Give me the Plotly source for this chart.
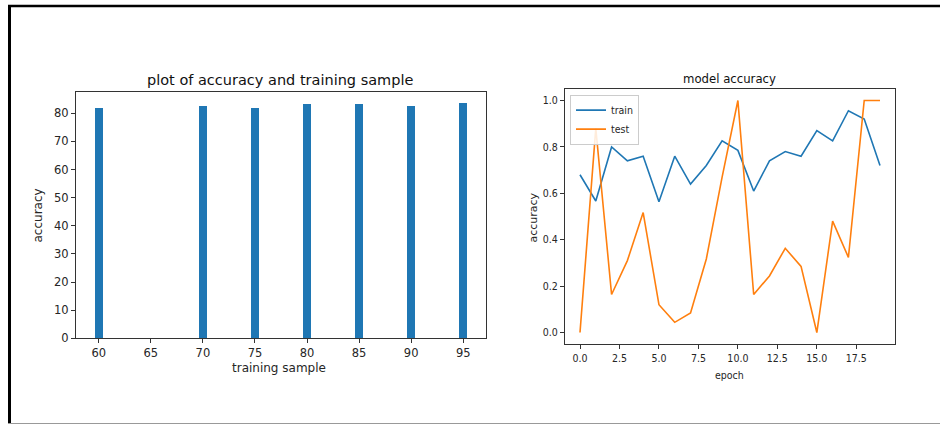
import plotly.graph_objects as go

# ---- data ----
samples = [60, 70, 75, 80, 85, 90, 95]
sample_accuracy = [81.8, 82.6, 81.8, 83.1, 83.1, 82.3, 83.4]

epochs = list(range(20))
train_acc = [0.68, 0.567, 0.80, 0.74, 0.76, 0.564, 0.76, 0.64, 0.72, 0.826,
             0.785, 0.61, 0.74, 0.78, 0.76, 0.87, 0.826, 0.956, 0.92, 0.72]
test_acc = [0.0, 0.88, 0.164, 0.31, 0.517, 0.12, 0.044, 0.084, 0.317, 0.67,
            1.0, 0.164, 0.244, 0.363, 0.285, 0.0, 0.48, 0.324, 1.0, 1.0]

left_xticks = [60, 65, 70, 75, 80, 85, 90, 95]
left_yticks = [0, 10, 20, 30, 40, 50, 60, 70, 80]
right_xticks = [0.0, 2.5, 5.0, 7.5, 10.0, 12.5, 15.0, 17.5]
right_yticks = [0.0, 0.2, 0.4, 0.6, 0.8, 1.0]

W = 940
REF_H = 424
H = 434
BLUE = "#1f77b4"
ORANGE = "#ff7f0e"
TXT = "#262626"
FONT = "DejaVu Sans"
FONTC = "DejaVu Sans Condensed, DejaVu Sans"


def px(x):
    return x / W


def py(y):
    # y given in reference-picture pixels
    return 1 - y / REF_H


fig = go.Figure()

fig.add_trace(go.Bar(x=samples, y=sample_accuracy, width=0.8,
                     marker=dict(color=BLUE, line=dict(width=0)),
                     xaxis="x", yaxis="y", showlegend=False))

fig.add_trace(go.Scatter(x=epochs, y=train_acc, mode="lines", name="train",
                         line=dict(color=BLUE, width=1.6),
                         xaxis="x2", yaxis="y2"))
fig.add_trace(go.Scatter(x=epochs, y=test_acc, mode="lines", name="test",
                         line=dict(color=ORANGE, width=1.6),
                         xaxis="x2", yaxis="y2"))

axis_common = dict(showgrid=False, zeroline=False, showline=True,
                   linecolor="#333333", linewidth=1, mirror=True,
                   ticks="outside", ticklen=4, tickcolor="#333333",
                   tickfont=dict(family=FONT, size=11.5, color=TXT))

fig.update_layout(
    width=W, height=H,
    margin=dict(l=0, r=0, t=0, b=0),
    paper_bgcolor="white", plot_bgcolor="white",
    bargap=0,
    xaxis=dict(axis_common, domain=[px(76), px(486)], range=[57.81, 97.19],
               tickvals=left_xticks, ticktext=[str(v) for v in left_xticks],
               anchor="y"),
    yaxis=dict(axis_common, domain=[py(336), py(91.7)], range=[0, 87.4],
               tickvals=left_yticks, ticktext=[str(v) for v in left_yticks],
               anchor="x"),
    xaxis2=dict(axis_common, domain=[px(565), px(895)], range=[-0.95, 19.95],
                tickvals=right_xticks,
                ticktext=["%.1f" % v for v in right_xticks],
                tickfont=dict(family=FONTC, size=10.5, color=TXT),
                anchor="y2"),
    yaxis2=dict(axis_common, domain=[py(341.7), py(88.3)], range=[-0.05, 1.05],
                tickvals=right_yticks,
                ticktext=["%.1f" % v for v in right_yticks],
                tickfont=dict(family=FONTC, size=10.5, color=TXT),
                anchor="x2"),
    legend=dict(x=px(570), y=py(94), xanchor="left", yanchor="top",
                bgcolor="rgba(255,255,255,0.85)", bordercolor="#cccccc",
                borderwidth=1, font=dict(family=FONTC, size=10.5, color=TXT),
                itemwidth=30, tracegroupgap=0),
    showlegend=True,
)

annotations = [
    dict(text="plot of accuracy and training sample", x=px(280), y=py(79),
         font=dict(family=FONT, size=14.5, color="#111111")),
    dict(text="training sample", x=px(279), y=py(365),
         font=dict(family=FONT, size=12, color=TXT)),
    dict(text="accuracy", x=px(38), y=py(214), textangle=-90,
         font=dict(family=FONT, size=12, color=TXT)),
    dict(text="model accuracy", x=px(729), y=py(78),
         font=dict(family=FONTC, size=13, color="#111111")),
    dict(text="epoch", x=px(729), y=py(372),
         font=dict(family=FONTC, size=10.5, color=TXT)),
    dict(text="accuracy", x=px(534), y=py(216), textangle=-90,
         font=dict(family=FONT, size=11, color=TXT)),
]
for a in annotations:
    a.update(xref="paper", yref="paper", showarrow=False,
             xanchor="center", yanchor="middle")
fig.update_layout(annotations=annotations)

# outer frame of the screenshot
fig.update_layout(shapes=[
    dict(type="line", xref="paper", yref="paper", x0=px(8), x1=1,
         y0=py(6), y1=py(6), line=dict(color="black", width=2.5)),
    dict(type="line", xref="paper", yref="paper", x0=px(9.5), x1=px(9.5),
         y0=py(5), y1=py(421), line=dict(color="black", width=3)),
    dict(type="line", xref="paper", yref="paper", x0=px(8), x1=1,
         y0=py(421), y1=py(421), line=dict(color="#999999", width=2)),
])

POST = """
var d = document.querySelector('.plotly-graph-div');
document.documentElement.style.margin = '0';
document.documentElement.style.padding = '0';
document.documentElement.style.overflow = 'hidden';
document.body.style.margin = '0';
document.body.style.padding = '0';
document.body.style.overflow = 'hidden';
d.style.position = 'absolute';
d.style.left = '0px';
d.style.top = '0px';
"""

fig.write_html(
    "out.html",
    config={"displayModeBar": False},
    post_script=POST,
)
